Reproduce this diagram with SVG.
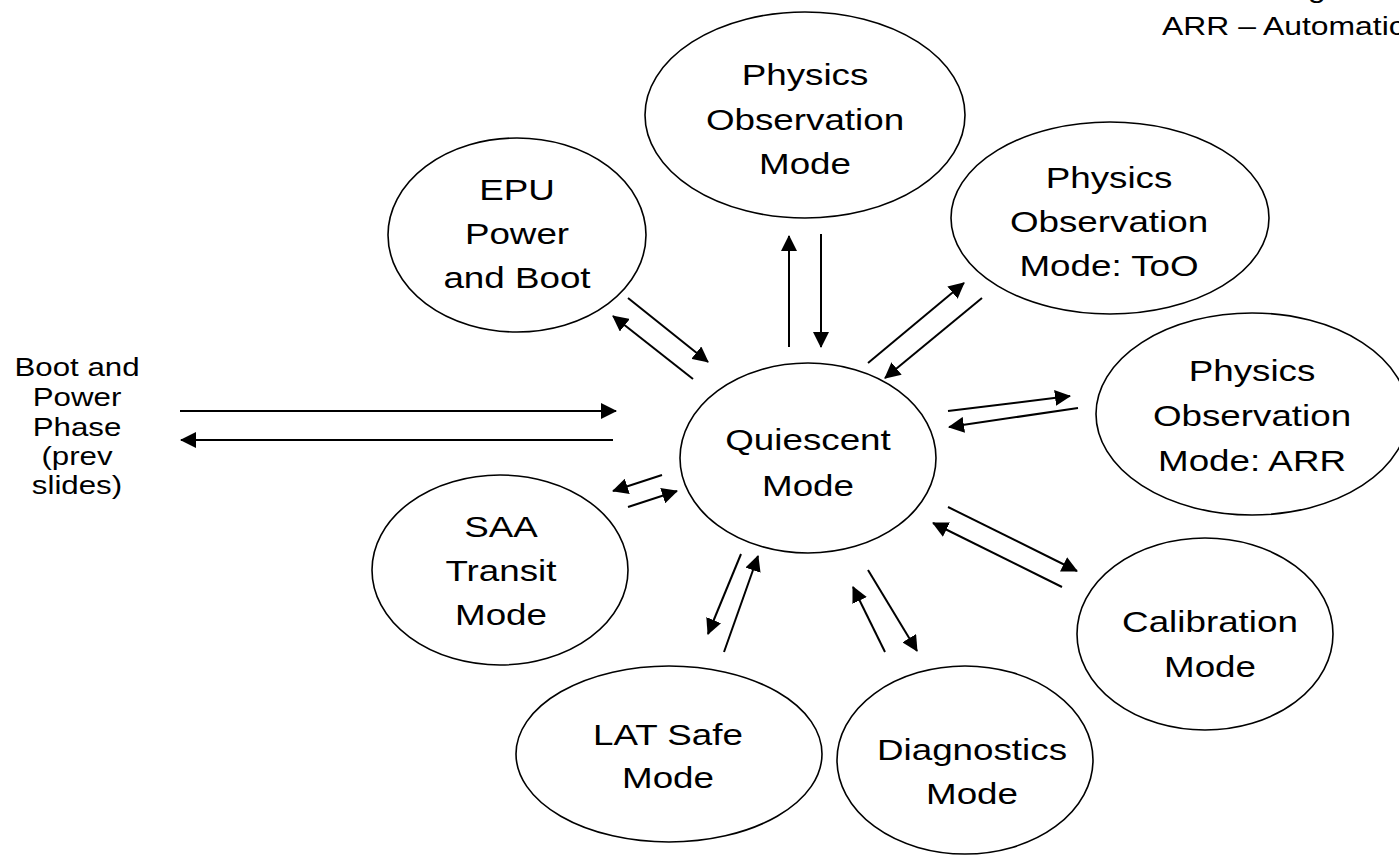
<svg xmlns="http://www.w3.org/2000/svg" width="1399" height="856" viewBox="0 0 1399 856">
<style>
  .node ellipse { fill: #ffffff; stroke: #000000; stroke-width: 1.6; }
  .lbl { font-family: "Liberation Sans", Arial, sans-serif; font-size: 30px; fill: #000000; text-anchor: middle; }
  .small { font-family: "Liberation Sans", Arial, sans-serif; font-size: 25.5px; fill: #000000; text-anchor: middle; }
  .note { font-family: "Liberation Sans", Arial, sans-serif; font-size: 26px; fill: #000000; }
  #connectors line { stroke: #000000; stroke-width: 2; marker-end: url(#arrow); }
</style>
<defs>
  <marker id="arrow" markerUnits="userSpaceOnUse" markerWidth="16" markerHeight="16" viewBox="0 0 16 16" refX="15" refY="8" orient="auto">
    <path d="M0,0 L16,8 L0,16 z" fill="#000000"/>
  </marker>
</defs>
<rect x="0" y="0" width="1399" height="856" fill="#ffffff"/>

<g id="note">
  <g transform="translate(1308 0) scale(1.226 1)"><text class="note" x="0" y="-2">g</text></g>
  <g transform="translate(1162 0) scale(1.226 1)"><text class="note" x="0" y="35">ARR – Automatic</text></g>
</g>

<g id="boot-phase">
  <g transform="translate(77 0) scale(1.226 1)">
    <text class="small"><tspan x="0" y="376">Boot and</tspan><tspan x="0" y="406">Power</tspan><tspan x="0" y="436">Phase</tspan><tspan x="0" y="465">(prev</tspan><tspan x="0" y="494">slides)</tspan></text>
  </g>
</g>

<g id="physics-obs" class="node">
  <ellipse cx="805" cy="115" rx="160" ry="103"/>
  <g transform="translate(805 0) scale(1.226 1)"><text class="lbl"><tspan x="0" y="85">Physics</tspan><tspan x="0" y="130">Observation</tspan><tspan x="0" y="174">Mode</tspan></text></g>
</g>

<g id="epu" class="node">
  <ellipse cx="517" cy="235" rx="129" ry="97"/>
  <g transform="translate(517 0) scale(1.226 1)"><text class="lbl"><tspan x="0" y="200">EPU</tspan><tspan x="0" y="244">Power</tspan><tspan x="0" y="288">and Boot</tspan></text></g>
</g>

<g id="physics-too" class="node">
  <ellipse cx="1110" cy="218" rx="159" ry="96"/>
  <g transform="translate(1109 0) scale(1.226 1)"><text class="lbl"><tspan x="0" y="188">Physics</tspan><tspan x="0" y="232">Observation</tspan><tspan x="0" y="276">Mode: ToO</tspan></text></g>
</g>

<g id="physics-arr" class="node">
  <ellipse cx="1252" cy="414" rx="156" ry="101"/>
  <g transform="translate(1252 0) scale(1.226 1)"><text class="lbl"><tspan x="0" y="381">Physics</tspan><tspan x="0" y="426">Observation</tspan><tspan x="0" y="471">Mode: ARR</tspan></text></g>
</g>

<g id="quiescent" class="node">
  <ellipse cx="808" cy="458" rx="128" ry="95"/>
  <g transform="translate(808 0) scale(1.226 1)"><text class="lbl"><tspan x="0" y="450">Quiescent</tspan><tspan x="0" y="496">Mode</tspan></text></g>
</g>

<g id="saa" class="node">
  <ellipse cx="500" cy="570" rx="128" ry="95"/>
  <g transform="translate(501 0) scale(1.226 1)"><text class="lbl"><tspan x="0" y="537">SAA</tspan><tspan x="0" y="581">Transit</tspan><tspan x="0" y="625">Mode</tspan></text></g>
</g>

<g id="calibration" class="node">
  <ellipse cx="1205" cy="634" rx="128" ry="96"/>
  <g transform="translate(1210 0) scale(1.226 1)"><text class="lbl"><tspan x="0" y="632">Calibration</tspan><tspan x="0" y="677">Mode</tspan></text></g>
</g>

<g id="lat-safe" class="node">
  <ellipse cx="669" cy="754" rx="153" ry="88"/>
  <g transform="translate(668 0) scale(1.226 1)"><text class="lbl"><tspan x="0" y="745">LAT Safe</tspan><tspan x="0" y="788">Mode</tspan></text></g>
</g>

<g id="diagnostics" class="node">
  <ellipse cx="965" cy="760" rx="128" ry="94"/>
  <g transform="translate(972 0) scale(1.226 1)"><text class="lbl"><tspan x="0" y="760">Diagnostics</tspan><tspan x="0" y="804">Mode</tspan></text></g>
</g>

<g id="connectors">
  <line x1="789" y1="347" x2="789" y2="236"/>
  <line x1="821" y1="234" x2="821" y2="347"/>
  <line x1="628" y1="298" x2="708" y2="362"/>
  <line x1="693" y1="379" x2="613" y2="316"/>
  <line x1="868" y1="363" x2="964" y2="283"/>
  <line x1="982" y1="298" x2="885" y2="378"/>
  <line x1="948" y1="411" x2="1070" y2="396"/>
  <line x1="1078" y1="408" x2="949" y2="427"/>
  <line x1="662" y1="475" x2="613" y2="491"/>
  <line x1="628" y1="507" x2="677" y2="491"/>
  <line x1="180" y1="411" x2="616" y2="411"/>
  <line x1="613" y1="440" x2="181" y2="440"/>
  <line x1="741" y1="554" x2="708" y2="634"/>
  <line x1="724" y1="652" x2="758" y2="556"/>
  <line x1="885" y1="652" x2="853" y2="587"/>
  <line x1="868" y1="570" x2="917" y2="651"/>
  <line x1="948" y1="507" x2="1077" y2="571"/>
  <line x1="1062" y1="587" x2="933" y2="523"/>
</g>
</svg>
